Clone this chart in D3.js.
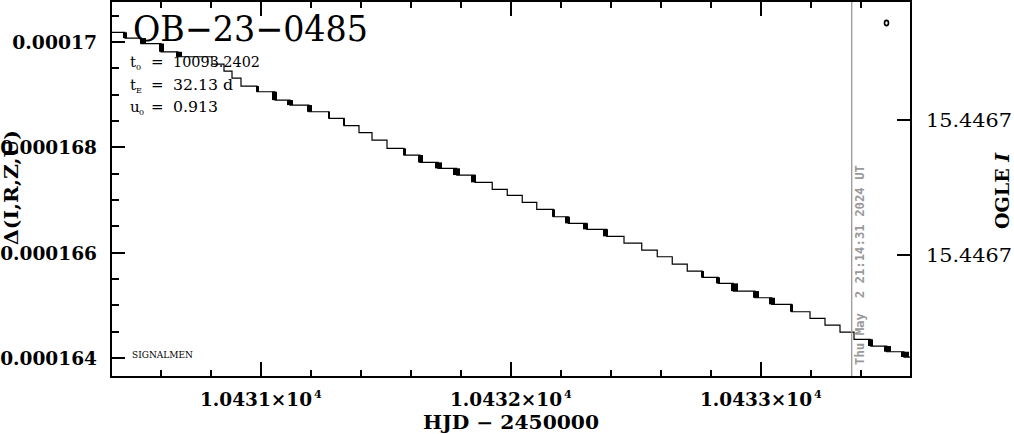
<!DOCTYPE html>
<html><head><meta charset="utf-8">
<script src="https://cdn.jsdelivr.net/npm/d3@7"></script>
<style>body{margin:0;background:#fff}svg{display:block}</style>
</head><body>
<svg id="c" width="1014" height="434"></svg>
<script>
// ---- data ----
const stepTime = [10430.400,10430.456,10430.520,10430.600,10430.668,10430.804,10430.852,10430.884,10430.920,10430.984,
  10431.056,10431.116,10431.192,10431.272,10431.332,10431.392,10431.444,10431.504,10431.572,10431.636,
  10431.708,10431.783,10431.856,10431.925,10431.985,10432.045,10432.103,10432.169,10432.229,10432.303,
  10432.383,10432.452,10432.523,10432.585,10432.645,10432.705,10432.765,10432.829,10432.889,10432.976,
  10433.043,10433.123,10433.196,10433.256,10433.316,10433.372,10433.439,10433.503,10433.572];
const stepFlux = [0.0001701842,0.0001700759,0.0001699715,0.0001698158,0.0001697209,0.0001695823,0.0001694494,0.0001693165,0.0001691646,0.0001690563,
  0.0001688988,0.0001688038,0.0001686766,0.0001685513,0.0001684146,0.0001682817,0.0001681393,0.0001679817,0.0001678545,0.0001677159,
  0.0001676020,0.0001674747,0.0001673361,0.0001672033,0.0001670893,0.0001669564,0.0001668235,0.0001666830,0.0001665577,0.0001664437,
  0.0001663108,0.0001661836,0.0001660507,0.0001659235,0.0001657849,0.0001656520,0.0001655324,0.0001654185,0.0001652723,0.0001651451,
  0.0001650198,0.0001648793,0.0001647540,0.0001646267,0.0001644938,0.0001643552,0.0001642280,0.0001641198,0.0001640191];
const jitterStart = [10430.448,10430.516,10430.592,10430.660,10430.980,10431.044,10431.104,10431.184,10431.268,10431.328,
  10431.568,10431.628,10431.696,10431.768,10431.840,10432.164,10432.216,10432.288,10432.368,10432.760,
  10432.820,10432.880,10432.968,10433.032,10433.116,10433.428,10433.492,10433.560];
const jitterEnd = [10430.464,10430.540,10430.612,10430.684,10430.992,10431.064,10431.128,10431.204,10431.276,10431.336,
  10431.580,10431.648,10431.724,10431.796,10431.860,10432.176,10432.236,10432.308,10432.388,10432.772,
  10432.836,10432.908,10432.992,10433.056,10433.128,10433.448,10433.520,10433.592];
const xDomain = [10430.4, 10433.6];
const yDomain = [0.00016364, 0.00017078];
const xMajorTicks = [10431, 10432, 10433];
const xMajorLabels = ["1.0431×10", "1.0432×10", "1.0433×10"];
const xLabelExponent = "4";
const yMajorTicks = [0.000164, 0.000166, 0.000168, 0.00017];
const yMajorLabels = ["0.000164", "0.000166", "0.000168", "0.00017"];
const rightTicks = [15.44671, 15.44672];
const rightLabels = ["15.4467", "15.4467"];
const nowTime = 10433.3628;
const nowLabel = "Thu May  2 21:14:31 2024 UT";
const titleText = "OB\u221223\u22120485";
const paramSymbols = ["t", "t", "u"];
const paramSubs = ["0", "E", "0"];
const paramValues = ["10093.2402", "32.13 d", "0.913"];
const xTitle = "HJD \u2212 2450000";
const yTitle = "\u0394(I,R,Z,U)";
const rightTitle = "OGLE ";
const rightTitleItalic = "I";
const observerLabel = "SIGNALMEN";

// ---- layout ----
const L = 111, R = 911, T = 1, B = 377;
const svg = d3.select("#c");
const x = d3.scaleLinear().domain(xDomain).range([L, R]);
const y = d3.scaleLinear().domain(yDomain).range([B, T]);
const yR = d3.scaleLinear().domain([15.44671, 15.44672]).range([120, 255]);
const serif = "'DejaVu Serif', serif";

svg.append("defs").append("clipPath").attr("id", "clip")
  .append("rect").attr("x", L).attr("y", T).attr("width", R - L).attr("height", B - T);

// staircase line
const pts = stepTime.map((t, i) => [t, stepFlux[i]]);
pts.push([xDomain[1], stepFlux[stepFlux.length - 1]]);
const g = svg.append("g").attr("clip-path", "url(#clip)");
g.append("path").datum(pts)
  .attr("d", d3.line().x(d => x(d[0])).y(d => y(d[1])).curve(d3.curveStepAfter))
  .attr("fill", "none").attr("stroke", "#000").attr("stroke-width", 1.2);

// jitter blocks at transitions
jitterStart.forEach((t0, k) => {
  const t1 = jitterEnd[k], mid = (t0 + t1) / 2;
  let i = d3.minIndex(stepTime, s => Math.abs(s - mid));
  if (i < 1) i = 1;
  const ya = y(stepFlux[i - 1]), yb = y(stepFlux[i]);
  g.append("rect").attr("x", x(t0)).attr("width", Math.max(1.5, x(t1) - x(t0)))
    .attr("y", Math.min(ya, yb)).attr("height", Math.abs(yb - ya)).attr("fill", "#000");
});

// vertical "now" line
svg.append("line").attr("x1", x(nowTime)).attr("x2", x(nowTime)).attr("y1", T).attr("y2", B)
  .attr("stroke", "#999").attr("stroke-width", 1.3);
svg.append("text").attr("transform", `translate(${x(nowTime) + 12},365) rotate(-90)`)
  .attr("font-family", "'DejaVu Sans Mono', monospace").attr("font-weight", "bold").attr("font-size", 12)
  .attr("fill", "#999").attr("textLength", 200).attr("lengthAdjust", "spacingAndGlyphs")
  .attr("xml:space", "preserve").style("white-space", "pre").text(nowLabel);

// frame
svg.append("rect").attr("x", L).attr("y", T).attr("width", R - L).attr("height", B - T)
  .attr("fill", "none").attr("stroke", "#000").attr("stroke-width", 2);

// x ticks (top and bottom)
const xMinor = d3.range(0, 17).map(i => 10430.4 + i * 0.2).filter(v => v > xDomain[0] + 1e-6 && v < xDomain[1] - 1e-6);
xMinor.forEach(v => {
  const isMajor = xMajorTicks.some(m => Math.abs(m - v) < 1e-6);
  const len = isMajor ? 15 : 7;
  const px = Math.round(x(v));
  svg.append("line").attr("x1", px).attr("x2", px).attr("y1", B).attr("y2", B - len).attr("stroke", "#000").attr("stroke-width", 2);
  svg.append("line").attr("x1", px).attr("x2", px).attr("y1", T).attr("y2", T + len).attr("stroke", "#000").attr("stroke-width", 2);
});
// y ticks (left)
const yMinor = d3.range(0, 16).map(i => 0.0001635 + i * 0.0000005).filter(v => v > yDomain[0] && v < yDomain[1]);
yMinor.forEach(v => {
  const isMajor = yMajorTicks.some(m => Math.abs(m - v) < 1e-10);
  const len = isMajor ? 14 : 8;
  const py = Math.round(y(v));
  svg.append("line").attr("x1", L).attr("x2", L + len).attr("y1", py).attr("y2", py).attr("stroke", "#000").attr("stroke-width", 2);
});
// right ticks
rightTicks.forEach((v, i) => {
  const py = Math.round(yR(v));
  svg.append("line").attr("x1", R).attr("x2", R - 14).attr("y1", py).attr("y2", py).attr("stroke", "#000").attr("stroke-width", 2);
  svg.append("text").attr("x", 926).attr("y", py + 7).attr("font-family", serif).attr("font-size", 19)
    .attr("textLength", 86).attr("lengthAdjust", "spacingAndGlyphs").text(rightLabels[i]);
});

// y tick labels
yMajorTicks.forEach((v, i) => {
  svg.append("text").attr("x", 97).attr("y", y(v) + 7).attr("text-anchor", "end")
    .attr("font-family", serif).attr("font-size", 19).attr("font-weight", "bold")
    .attr("textLength", yMajorLabels[i].length * 12.1).attr("lengthAdjust", "spacingAndGlyphs")
    .text(yMajorLabels[i]);
});
// x tick labels
xMajorTicks.forEach((v, i) => {
  const t = svg.append("text").attr("x", x(v) - 61).attr("y", 406)
    .attr("font-family", serif).attr("font-size", 19).attr("font-weight", "bold");
  t.append("tspan").attr("textLength", 112).attr("lengthAdjust", "spacingAndGlyphs").text(xMajorLabels[i]);
  svg.append("text").attr("x", x(v) + 53).attr("y", 398).attr("font-family", serif)
    .attr("font-size", 11).attr("font-weight", "bold").text(xLabelExponent);
});

// axis titles
svg.append("text").attr("x", 423).attr("y", 429).attr("font-family", serif).attr("font-size", 18).attr("font-weight", "bold")
  .attr("textLength", 176).attr("lengthAdjust", "spacingAndGlyphs").attr("xml:space", "preserve").text(xTitle);
svg.append("text").attr("transform", "translate(18,245) rotate(-90)").attr("font-family", serif).attr("font-size", 19)
  .attr("font-weight", "bold").attr("textLength", 115).attr("lengthAdjust", "spacingAndGlyphs").text(yTitle);
const rt = svg.append("text").attr("transform", "translate(1009,229) rotate(-90)").attr("font-family", serif)
  .attr("font-size", 19).attr("font-weight", "bold").attr("xml:space", "preserve");
rt.append("tspan").text(rightTitle);
rt.append("tspan").attr("font-style", "italic").text(rightTitleItalic);

// title & parameters
svg.append("text").attr("x", 133).attr("y", 41).attr("font-family", serif).attr("font-size", 35)
  .attr("textLength", 235).attr("lengthAdjust", "spacingAndGlyphs").text(titleText);
const pBase = [67, 90, 112];
const pValW = [87, 60, 45];
paramSymbols.forEach((s, i) => {
  svg.append("text").attr("x", 130).attr("y", pBase[i]).attr("font-family", serif).attr("font-size", 15).text(s);
  svg.append("text").attr("x", s === "u" ? 139 : 136).attr("y", pBase[i] + 3).attr("font-family", serif).attr("font-size", 8).text(paramSubs[i]);
  svg.append("text").attr("x", 151).attr("y", pBase[i]).attr("font-family", serif).attr("font-size", 15).text("=");
  svg.append("text").attr("x", 173).attr("y", pBase[i]).attr("font-family", serif).attr("font-size", 15)
    .attr("textLength", pValW[i]).attr("lengthAdjust", "spacingAndGlyphs").attr("xml:space", "preserve").text(paramValues[i]);
});
svg.append("text").attr("x", 132).attr("y", 358).attr("font-family", serif).attr("font-size", 9)
  .attr("textLength", 61).attr("lengthAdjust", "spacingAndGlyphs").text(observerLabel);
// small marker at top right
svg.append("ellipse").attr("cx", 886.5).attr("cy", 23).attr("rx", 2).attr("ry", 2.6)
  .attr("fill", "none").attr("stroke", "#000").attr("stroke-width", 1.6);
</script>
</body></html>
